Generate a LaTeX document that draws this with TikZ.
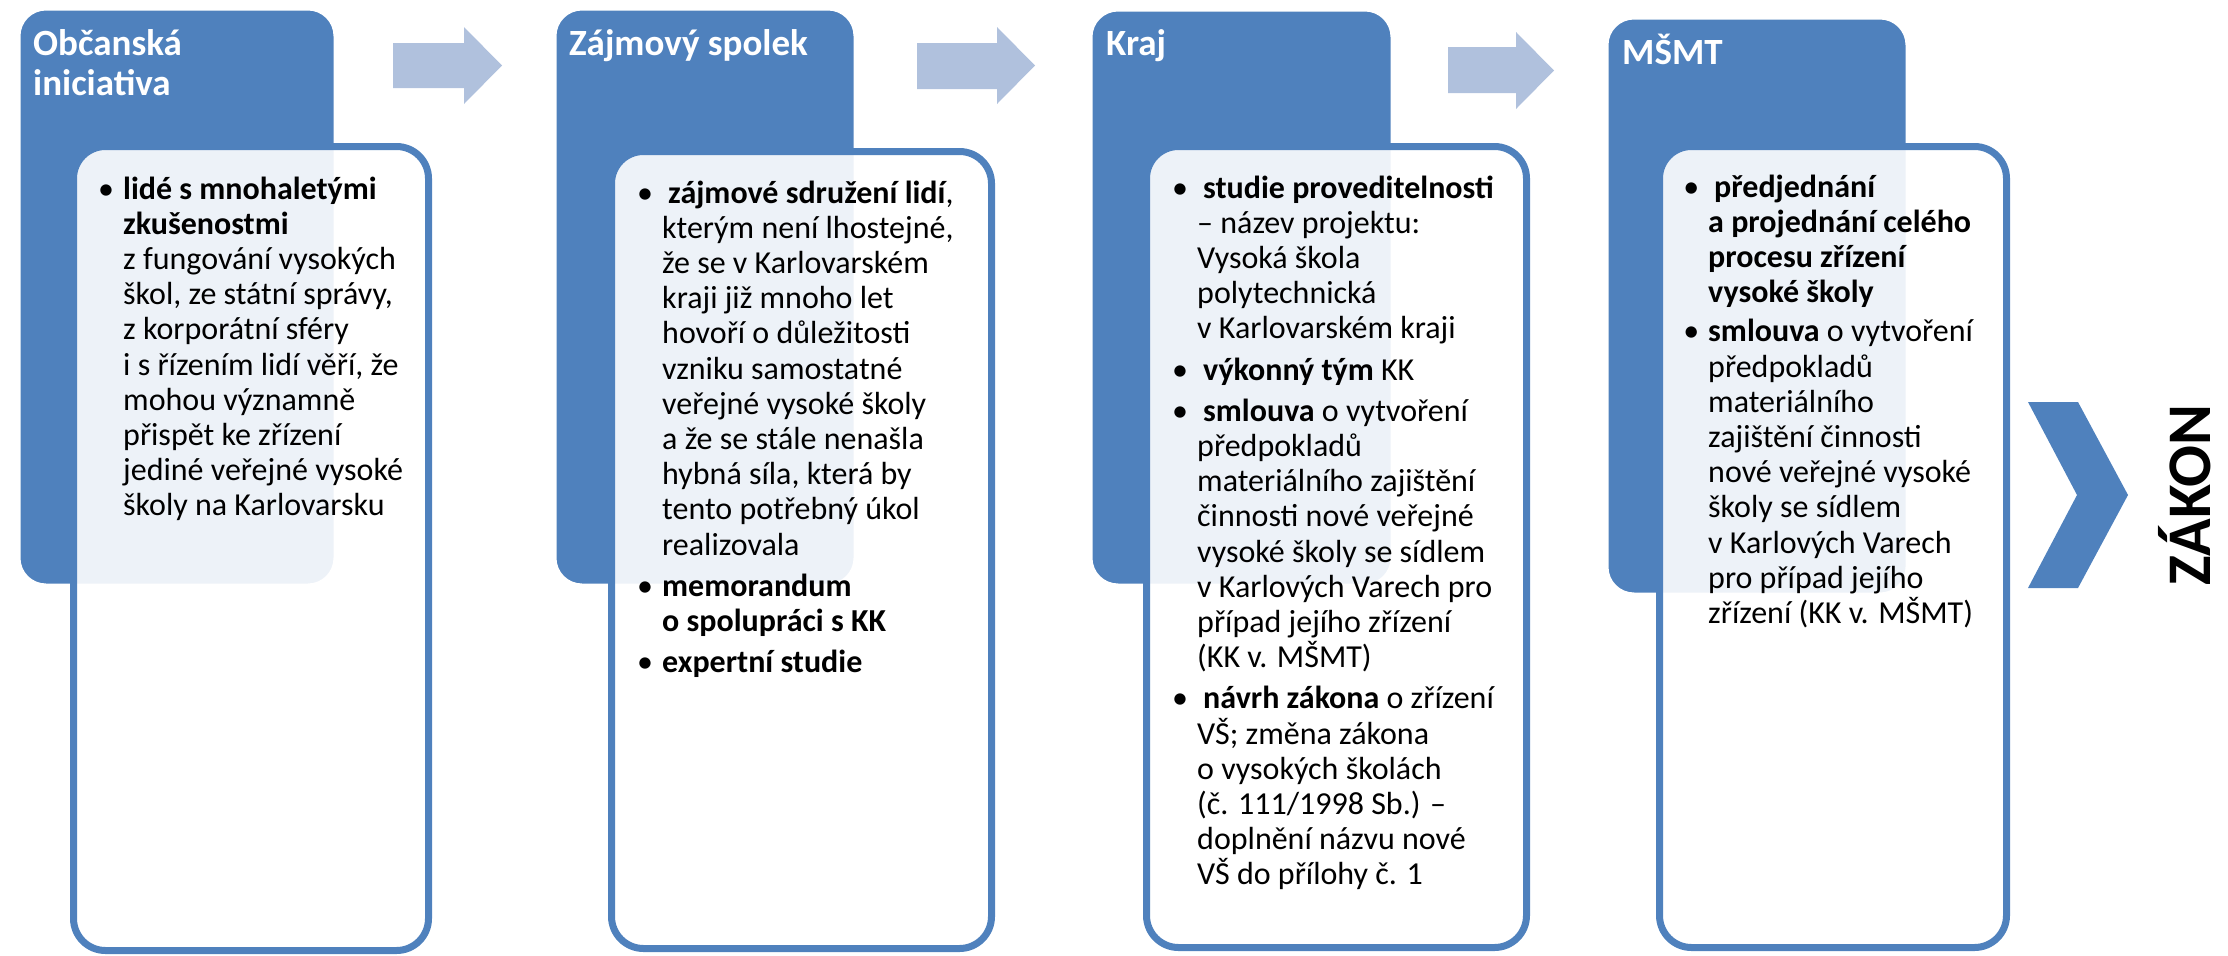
\documentclass[tikz,border=0pt]{standalone}
\usepackage{fontspec}
\setmainfont{Carlito}
\definecolor{accent}{RGB}{79,129,189}
\definecolor{lightarrow}{RGB}{176,193,221}
\newcommand{\bul}{\llap{\makebox[34pt][c]{•}}}
\tikzset{
  bluebox/.style={fill=accent, draw=white, line width=3pt, rounded corners=27pt},
  innerbox/.style={fill=white, fill opacity=0.9, draw=accent, line width=7pt, rounded corners=32pt},
  header/.style={anchor=base west, inner sep=0pt, text=white, font=\fontsize{37}{40}\selectfont\bfseries, align=left},
  body/.style={anchor=base west, inner sep=0pt, font=\fontsize{32}{35.2}\selectfont, align=left},
  blockarrow/.style={fill=lightarrow},
}
\begin{document}
\begin{tikzpicture}[x=1pt,y=-1pt]
\useasboundingbox (0,0) rectangle (2228,956);
% note: for multi-line nodes the base anchor is the baseline of the LAST line

% panel 1
\draw[bluebox] (19,9) rectangle (335,585);
\draw[innerbox] (73.5,146.5) rectangle (428.5,950.5);
\node[header] (h1) at (33,95) {Občanská\\iniciativa};
\node[body] (t1) at (123,515.8) {\bul\textbf{lidé s mnohaletými}\\
\textbf{zkušenostmi}\\
z fungování vysokých\\
škol, ze státní správy,\\
z korporátní sféry\\
i s řízením lidí věří, že\\
mohou významně\\
přispět ke zřízení\\
jediné veřejné vysoké\\
školy na Karlovarsku};

% panel 2
\draw[bluebox] (555,9) rectangle (855,585);
\draw[innerbox] (611.5,151.5) rectangle (991.5,948.5);
\node[header] (h2) at (569,55) {Zájmový spolek};
\node[body] (t2) at (662,672.6) {\bul\hspace{6pt}\textbf{zájmové sdružení lidí},\\
kterým není lhostejné,\\
že se v Karlovarském\\
kraji již mnoho let\\
hovoří o důležitosti\\
vzniku samostatné\\
veřejné vysoké školy\\
a že se stále nenašla\\
hybná síla, která by\\
tento potřebný úkol\\
realizovala\\[6pt]
\bul\textbf{memorandum}\\
\textbf{o spolupráci s KK}\\[6pt]
\bul\textbf{expertní studie}};

% panel 3
\draw[bluebox] (1091,10) rectangle (1392,585);
\draw[innerbox] (1146.5,146.5) rectangle (1526.5,947.5);
\node[header] (h3) at (1106,55) {Kraj};
\node[body] (t3) at (1197,884.8) {\bul\hspace{6pt}\textbf{studie proveditelnosti}\\
– název projektu:\\
Vysoká škola\\
polytechnická\\
v Karlovarském kraji\\[6pt]
\bul\hspace{6pt}\textbf{výkonný tým} KK\\[6pt]
\bul\hspace{6pt}\textbf{smlouva} o vytvoření\\
předpokladů\\
materiálního zajištění\\
činnosti nové veřejné\\
vysoké školy se sídlem\\
v Karlových Varech pro\\
případ jejího zřízení\\
(KK v. MŠMT)\\[6pt]
\bul\hspace{6pt}\textbf{návrh zákona} o zřízení\\
VŠ; změna zákona\\
o vysokých školách\\
(č. 111/1998 Sb.) –\\
doplnění názvu nové\\
VŠ do přílohy č. 1};

% panel 4
\draw[bluebox] (1607,18) rectangle (1907,594);
\draw[innerbox] (1659.5,146.5) rectangle (2006.5,947.5);
\node[header] (h4) at (1622,64) {MŠMT};
\node[body] (t4) at (1708,623.4) {\bul\hspace{6pt}\textbf{předjednání}\\
\textbf{a projednání celého}\\
\textbf{procesu zřízení}\\
\textbf{vysoké školy}\\[4pt]
\bul\textbf{smlouva} o vytvoření\\
předpokladů\\
materiálního\\
zajištění činnosti\\
nové veřejné vysoké\\
školy se sídlem\\
v Karlových Varech\\
pro případ jejího\\
zřízení (KK v. MŠMT)};

% block arrows
\fill[blockarrow] (393,43) -- (464,43) -- (464,27) -- (502,65.5) -- (464,104) -- (464,88) -- (393,88) -- cycle;
\fill[blockarrow] (917,43) -- (997,43) -- (997,27) -- (1035,65.5) -- (997,104) -- (997,89) -- (917,89) -- cycle;
\fill[blockarrow] (1448,47) -- (1516,47) -- (1516,32) -- (1554,70.5) -- (1516,109) -- (1516,93) -- (1448,93) -- cycle;

% chevron and ZAKON
\fill[accent] (2028,402) -- (2078,402) -- (2128,495) -- (2078,588) -- (2028,588) -- (2077,495) -- cycle;
\node[anchor=base, rotate=90, inner sep=0pt, font=\fontsize{62}{66}\selectfont\bfseries] (zakon) at (2210,495) {ZÁKON};
\end{tikzpicture}
\end{document}
